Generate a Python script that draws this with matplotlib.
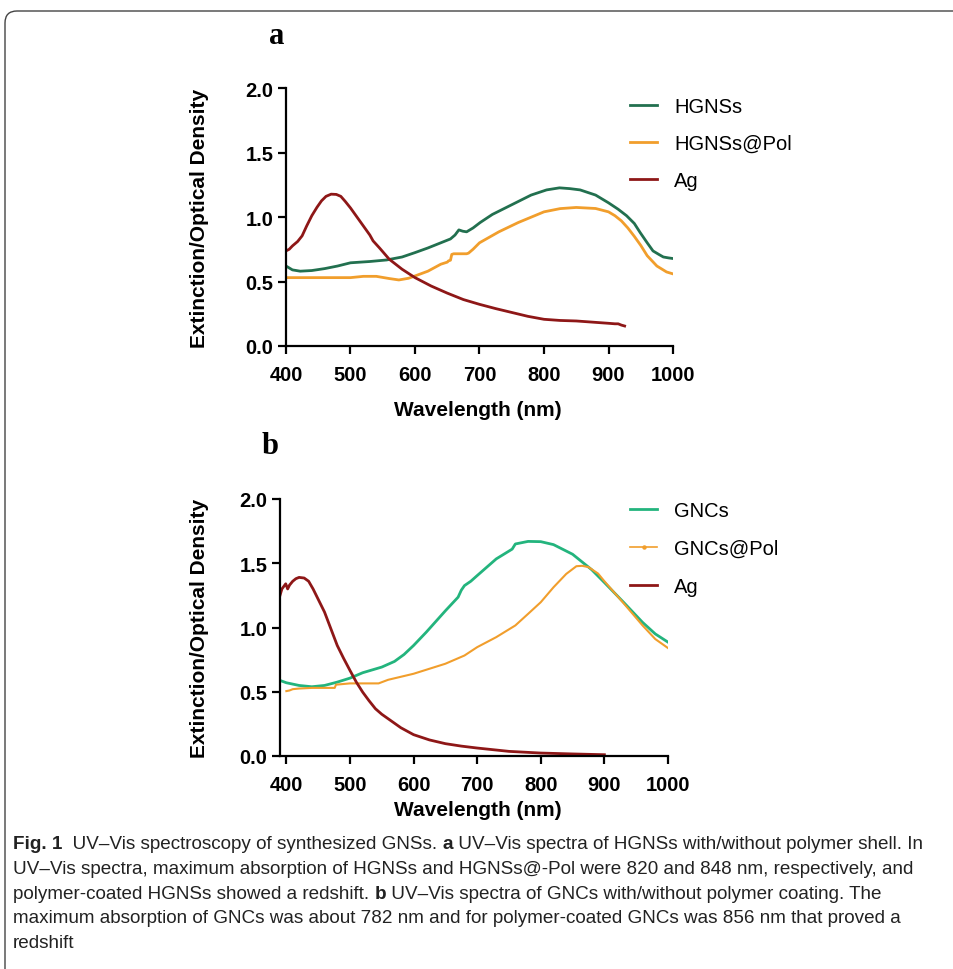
import matplotlib
matplotlib.use("Agg")
import matplotlib.pyplot as plt
from matplotlib.patches import FancyBboxPatch
from matplotlib.lines import Line2D

# ---- panel a data ----
wl_hgns = [400, 410, 422, 440, 460, 480, 500, 530, 556, 580, 600, 620, 640, 655, 662, 668, 674,
           680, 690, 701, 720, 752, 780, 804, 824, 840, 856, 880, 900, 915, 928, 940, 949, 960,
           969, 978, 985, 993, 1000]
od_hgns = [0.62, 0.59, 0.58, 0.585, 0.60, 0.62, 0.645, 0.655, 0.667, 0.69, 0.724, 0.76, 0.80,
           0.83, 0.86, 0.90, 0.89, 0.885, 0.915, 0.957, 1.02, 1.10, 1.17, 1.21, 1.226, 1.22, 1.21,
           1.17, 1.11, 1.06, 1.01, 0.95, 0.88, 0.80, 0.737, 0.71, 0.69, 0.683, 0.678]

wl_hgns_pol = [400, 450, 500, 510, 520, 540, 560, 575, 590, 600, 620, 640, 650, 652, 655, 657,
               660, 680, 683, 690, 700, 730, 760, 800, 825, 850, 880, 900, 910, 920, 930, 940,
               950, 960, 975, 990, 1000]
od_hgns_pol = [0.53, 0.53, 0.53, 0.535, 0.54, 0.54, 0.523, 0.512, 0.525, 0.543, 0.58, 0.634,
               0.65, 0.66, 0.665, 0.71, 0.715, 0.715, 0.72, 0.75, 0.80, 0.885, 0.957, 1.04, 1.065,
               1.074, 1.066, 1.04, 1.01, 0.97, 0.915, 0.85, 0.78, 0.70, 0.62, 0.574, 0.559]

wl_ag_a = [400, 405, 410, 418, 425, 432, 440, 448, 455, 462, 470, 478, 485, 492, 500, 510, 520,
           530, 535, 545, 560, 580, 600, 625, 650, 675, 700, 725, 750, 775, 800, 825, 850, 875,
           900, 910, 915, 920, 925]
od_ag_a = [0.737, 0.75, 0.776, 0.81, 0.854, 0.93, 1.01, 1.075, 1.125, 1.16, 1.177, 1.175, 1.16,
           1.12, 1.07, 1.00, 0.93, 0.86, 0.815, 0.76, 0.673, 0.595, 0.53, 0.465, 0.41, 0.36,
           0.323, 0.29, 0.26, 0.23, 0.207, 0.198, 0.194, 0.185, 0.176, 0.172, 0.172, 0.162, 0.155]

# ---- panel b data ----
wl_gnc = [390, 400, 420, 440, 460, 480, 500, 520, 550, 570, 585, 600, 620, 650, 670, 675, 680,
          690, 700, 730, 755, 760, 780, 800, 820, 850, 880, 900, 930, 960, 980, 1000]
od_gnc = [0.588, 0.57, 0.549, 0.539, 0.549, 0.575, 0.606, 0.648, 0.692, 0.736, 0.79, 0.86,
          0.964, 1.13, 1.236, 1.29, 1.326, 1.36, 1.404, 1.534, 1.61, 1.65, 1.67, 1.668, 1.645,
          1.57, 1.45, 1.35, 1.197, 1.04, 0.95, 0.886]

wl_gnc_pol = [400, 405, 410, 420, 440, 460, 476, 478, 500, 520, 545, 560, 600, 650, 680, 700,
              730, 760, 780, 800, 820, 840, 856, 865, 875, 890, 900, 930, 960, 980, 1000]
od_gnc_pol = [0.505, 0.51, 0.52, 0.525, 0.53, 0.53, 0.53, 0.555, 0.565, 0.565, 0.565, 0.593,
              0.64, 0.718, 0.782, 0.847, 0.925, 1.016, 1.106, 1.197, 1.313, 1.417, 1.477, 1.48,
              1.47, 1.42, 1.36, 1.19, 1.016, 0.91, 0.84]

wl_ag_b = [390, 393, 396, 399, 402, 405, 410, 415, 420, 428, 435, 442, 450, 460, 470, 480, 490,
           500, 510, 520, 530, 540, 550, 560, 580, 600, 625, 650, 675, 700, 750, 800, 850, 900]
od_ag_b = [1.25, 1.30, 1.32, 1.34, 1.30, 1.33, 1.36, 1.38, 1.39, 1.385, 1.36, 1.30, 1.22, 1.12,
           0.99, 0.86, 0.76, 0.666, 0.575, 0.497, 0.43, 0.368, 0.325, 0.29, 0.22, 0.166, 0.125,
           0.096, 0.077, 0.062, 0.036, 0.023, 0.016, 0.01]

x_ticks = [400, 500, 600, 700, 800, 900, 1000]
y_ticks = [0.0, 0.5, 1.0, 1.5, 2.0]

GREEN = "#22704f"
TEAL = "#23b47d"
ORANGE = "#f19e2c"
RED = "#8e1717"

W, H = 954, 970
fig = plt.figure(figsize=(W / 100, H / 100), dpi=100)
plt.rcParams["font.family"] = ["Liberation Sans", "DejaVu Sans"]


def px_axes(left, top, right, bottom):
    return fig.add_axes([left / W, 1 - bottom / H, (right - left) / W, (bottom - top) / H])


def style(ax, xmin):
    ax.set_xlim(xmin, 1000)
    ax.set_ylim(0, 2.0)
    ax.set_xticks(x_ticks)
    ax.set_yticks(y_ticks)
    ax.set_yticklabels(["%.1f" % v for v in y_ticks])
    for s in ["top", "right"]:
        ax.spines[s].set_visible(False)
    for s in ["left", "bottom"]:
        ax.spines[s].set_linewidth(1.6)
    ax.tick_params(width=1.6, length=6, labelsize=14.5)
    ax.tick_params(axis="x", pad=8)
    ax.tick_params(axis="y", pad=3)
    for t in ax.get_xticklabels() + ax.get_yticklabels():
        t.set_fontweight("bold")


# panel a
ax1 = px_axes(286, 89, 673, 347)
ax1.plot(wl_hgns, od_hgns, color=GREEN, lw=2.0, label="HGNSs")
ax1.plot(wl_hgns_pol, od_hgns_pol, color=ORANGE, lw=2.0, label="HGNSs@Pol")
ax1.plot(wl_ag_a, od_ag_a, color=RED, lw=2.0, label="Ag")
style(ax1, 400)
ax1.legend(loc="upper left", bbox_to_anchor=(622 / W, 1 - 90 / H), bbox_transform=fig.transFigure,
           frameon=False, fontsize=14.5, handlelength=1.35, handletextpad=0.85, labelspacing=0.9,
           borderaxespad=0)

# panel b
ax2 = px_axes(280, 500, 668, 757)
ax2.plot(wl_gnc, od_gnc, color=TEAL, lw=2.0)
ax2.plot(wl_gnc_pol, od_gnc_pol, color=ORANGE, lw=1.5)
ax2.plot(wl_ag_b, od_ag_b, color=RED, lw=2.0)
style(ax2, 390)
handles_b = [Line2D([], [], color=TEAL, lw=2.0),
             Line2D([], [], color=ORANGE, lw=1.2, marker="o", ms=2.2),
             Line2D([], [], color=RED, lw=2.0)]
ax2.legend(handles_b, ["GNCs", "GNCs@Pol", "Ag"], loc="upper left",
           bbox_to_anchor=(622 / W, 1 - 494 / H), bbox_transform=fig.transFigure,
           frameon=False, fontsize=14.5, handlelength=1.35, handletextpad=0.85, labelspacing=0.95,
           borderaxespad=0, numpoints=1)

# axis titles
for yc in (218, 628):
    fig.text(200 / W, 1 - yc / H, "Extinction/Optical Density", rotation=90, ha="center",
             va="center", fontsize=15, fontweight="bold")
fig.text(478 / W, 1 - 410 / H, "Wavelength (nm)", ha="center", va="center", fontsize=15,
         fontweight="bold")
fig.text(478 / W, 1 - 810 / H, "Wavelength (nm)", ha="center", va="center", fontsize=15,
         fontweight="bold")

# panel letters
fig.text(277 / W, 1 - 36 / H, "a", ha="center", va="center", fontsize=22, fontweight="bold",
         family="Liberation Serif")
fig.text(270 / W, 1 - 447 / H, "b", ha="center", va="center", fontsize=22, fontweight="bold",
         family="Liberation Serif")

# frame
frame = FancyBboxPatch((0.05, -0.5), 10.0, 10.08, boxstyle="round,pad=0,rounding_size=0.12",
                       transform=fig.dpi_scale_trans, fill=False, edgecolor="#444444", lw=1.0)
fig.patches.append(frame)

# caption with bold pieces
caption = [
    [("Fig. 1", True), ("  UV–Vis spectroscopy of synthesized GNSs. ", False), ("a", True),
     (" UV–Vis spectra of HGNSs with/without polymer shell. In", False)],
    [("UV–Vis spectra, maximum absorption of HGNSs and HGNSs@-Pol were 820 and 848 nm, "
      "respectively, and", False)],
    [("polymer-coated HGNSs showed a redshift. ", False), ("b", True),
     (" UV–Vis spectra of GNCs with/without polymer coating. The", False)],
    [("maximum absorption of GNCs was about 782 nm and for polymer-coated GNCs was 856 nm "
      "that proved a", False)],
    [("redshift", False)],
]
renderer = fig.canvas.get_renderer()
for i, line in enumerate(caption):
    x = 13
    y = 845 + i * 24.6
    for txt, bold in line:
        t = fig.text(x / W, 1 - y / H, txt, ha="left", va="center", fontsize=13.6,
                     family="Liberation Sans", fontweight="bold" if bold else "normal",
                     color="#222222")
        x += t.get_window_extent(renderer).width

fig.savefig("out.png", dpi=100)
